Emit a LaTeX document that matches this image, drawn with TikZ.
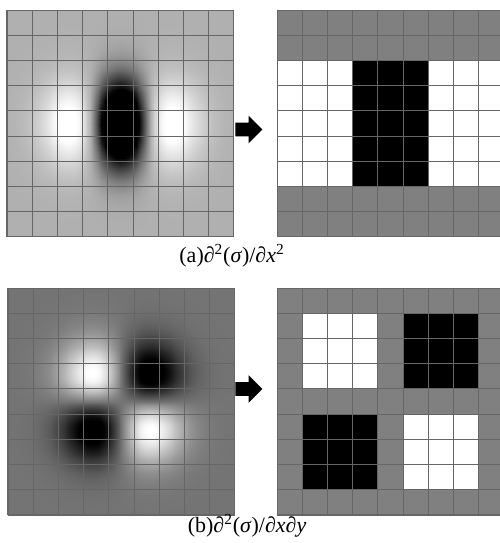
\documentclass[tikz,border=0pt]{standalone}
\usepackage{fontspec}
\setmainfont{Liberation Serif}
\usepackage{pgfplots}
\pgfplotsset{compat=1.18}
\usetikzlibrary{shapes.arrows}
\definecolor{cellgray}{gray}{0.5}
\definecolor{linegray}{gray}{0.4}
\tikzset{
  % grid lines
  gridline/.style   = {draw=linegray, line width=0.6pt},
  % cells
  cellG/.style      = {fill=cellgray},
  cellW/.style      = {fill=white},
  cellB/.style      = {fill=black},
  % block arrow
  blockarrow/.style = {single arrow, fill=black, draw=none, inner sep=3.7pt,
                       minimum height=0.54cm, single arrow head extend=4pt,
                       anchor=tail},
  % captions
  caplabel/.style   = {font=\fontsize{12.5}{15}\selectfont, inner sep=0pt},
}
\pgfplotsset{
  kernelplot/.style = {hide axis, scale only axis, width=4.536cm, height=4.536cm,
                       view={0}{90}, xmin=-4.5, xmax=4.5, ymin=-4.5, ymax=4.5,
                       colormap/blackwhite, anchor=south west},
  % zero of the xx kernel sits at a light gray
  xxmap/.style      = {colormap={xxgray}{gray(0cm)=(0); gray(5cm)=(0.69); gray(8.8cm)=(1)}},
}

\begin{document}
\begin{tikzpicture}
  \useasboundingbox (0,0) rectangle (10,10.86);
  \clip (0,0) rectangle (10,10.86);
  % (a) kernel
  \begin{axis}[kernelplot, xxmap, at={(0.14cm,6.12cm)}, point meta min=-0.5, point meta max=0.38]
    \addplot3[surf, shader=interp, samples=61, domain=-4.5:4.5, y domain=-4.5:4.5, point meta=z]
      {(x^2/1.416-1)*exp(-(x^2+y^2)/2.832)};
  \end{axis}
  % (b) kernel
  \begin{axis}[kernelplot, at={(0.16cm,0.56cm)}, point meta min=-0.3, point meta max=0.36]
    \addplot3[surf, shader=interp, samples=61, domain=-4.5:4.5, y domain=-4.5:4.5, point meta=z]
      {-(x*y/1.3225)*exp(-(x^2+y^2)/2.645)};
  \end{axis}
  \begin{scope}[x=0.02cm, y=0.02cm]
    % (a) box filter
    \begin{scope}[shift={(277,306)}, scale=25.2]
      \fill[cellG] (0,0) rectangle (9,9);
      \fill[cellW] (0,2) rectangle (3,7);
      \fill[cellB] (3,2) rectangle (6,7);
      \fill[cellW] (6,2) rectangle (9,7);
    \end{scope}
    % (b) box filter
    \begin{scope}[shift={(277,28)}, scale=25.2]
      \fill[cellG] (0,0) rectangle (9,9);
      \fill[cellW] (1,5) rectangle (4,8);
      \fill[cellB] (5,5) rectangle (8,8);
      \fill[cellB] (1,1) rectangle (4,4);
      \fill[cellW] (5,1) rectangle (8,4);
    \end{scope}
    % grids
    \foreach \gx/\gy in {7/306, 277/306, 8/28, 277/28} {
      \begin{scope}[shift={(\gx,\gy)}, scale=25.2]
        \foreach \i in {0,...,9} {
          \draw[gridline] (\i,0) -- (\i,9);
          \draw[gridline] (0,\i) -- (9,\i);
        }
      \end{scope}
    }
    % arrows
    \node[blockarrow] (arrA) at (235,413.5) {};
    \node[blockarrow] (arrB) at (235,154) {};
    % captions
    \node[caplabel] (capA) at (232,287)
      {(a)\textit{∂}\textsuperscript{2}(\textit{σ})/\textit{∂x}\textsuperscript{2}};
    \node[caplabel] (capB) at (247,17)
      {(b)\textit{∂}\textsuperscript{2}(\textit{σ})/\textit{∂x∂y}};
  \end{scope}
\end{tikzpicture}
\end{document}
